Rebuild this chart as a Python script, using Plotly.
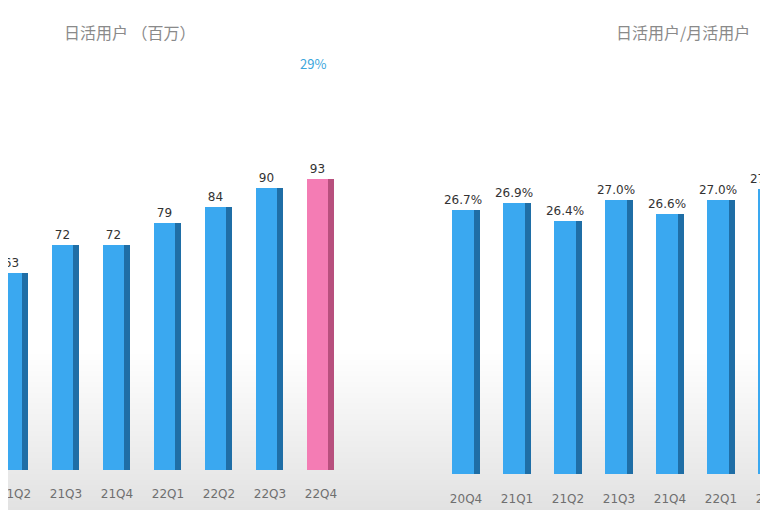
import plotly.graph_objects as go

# ---- data ----
dau_quarters = ["21Q2", "21Q3", "21Q4", "22Q1", "22Q2", "22Q3", "22Q4"]
dau_values = [63, 72, 72, 79, 84, 90, 93]
dau_labels = ["63", "72", "72", "79", "84", "90", "93"]

ratio_quarters = ["20Q4", "21Q1", "21Q2", "21Q3", "21Q4", "22Q1", "22Q2"]
ratio_values = [26.7, 26.9, 26.4, 27.0, 26.6, 27.0, 27.3]
ratio_labels = ["26.7%", "26.9%", "26.4%", "27.0%", "26.6%", "27.0%", "27.3%"]

left_title = "日活用户 （百万）"
growth_note = "29%"
right_title = "日活用户/月活用户"

# ---- styles ----
BLUE = "#3aa8f0"
BLUE_SIDE = "#1f6ea6"
PINK = "#f47cb4"
PINK_SIDE = "#b8507e"
FONT = "Noto Sans CJK SC"
NUMFONT = "DejaVu Sans"
W, H = 768, 510
OFF = 8  # page body margin offset compensation

front_colors = [BLUE] * (len(dau_values) - 1) + [PINK]
side_colors = [BLUE_SIDE] * (len(dau_values) - 1) + [PINK_SIDE]

fig = go.Figure()

label_font = dict(size=12, color="#333333", family=NUMFONT)

# left panel: front faces
fig.add_trace(go.Bar(
    x=dau_quarters, y=dau_values, width=0.42, offset=-0.28,
    marker=dict(color=front_colors, line=dict(width=0)),
    text=dau_labels, textposition="outside", constraintext="none",
    textfont=label_font,
    cliponaxis=False, xaxis="x", yaxis="y", hoverinfo="skip"))
# left panel: side faces
fig.add_trace(go.Bar(
    x=dau_quarters, y=dau_values, width=0.12, offset=0.14,
    marker=dict(color=side_colors, line=dict(width=0)),
    xaxis="x", yaxis="y", hoverinfo="skip"))

# right panel: front faces
fig.add_trace(go.Bar(
    x=ratio_quarters, y=ratio_values, width=0.44, offset=-0.28,
    marker=dict(color=BLUE, line=dict(width=0)),
    text=ratio_labels, textposition="outside", constraintext="none",
    textfont=label_font,
    cliponaxis=True, xaxis="x2", yaxis="y2", hoverinfo="skip"))
# right panel: side faces
fig.add_trace(go.Bar(
    x=ratio_quarters, y=ratio_values, width=0.12, offset=0.16,
    marker=dict(color=BLUE_SIDE, line=dict(width=0)),
    xaxis="x2", yaxis="y2", hoverinfo="skip"))

xaxis_common = dict(showgrid=False, zeroline=False, showline=False,
                    ticks="outside", tickcolor="rgba(0,0,0,0)",
                    tickfont=dict(size=12, color="#6f6f6f", family=NUMFONT),
                    fixedrange=True, automargin=False, type="category")
yaxis_common = dict(showgrid=False, zeroline=False, showline=False,
                    showticklabels=False, fixedrange=True, automargin=False)

# background gradient (lower part very light grey-blue)
shapes = []
n = 30
for i in range(n):
    top = 0.32 * (1 - i / n)
    shapes.append(dict(type="rect", xref="paper", yref="paper",
                       x0=0, x1=1, y0=0, y1=top,
                       fillcolor="rgba(200,208,222,0.015)",
                       line=dict(width=0), layer="below"))

fig.update_layout(
    width=W, height=H,
    margin=dict(l=0, r=0, t=0, b=0, autoexpand=False),
    paper_bgcolor="#ffffff", plot_bgcolor="rgba(0,0,0,0)",
    showlegend=False, barmode="overlay", bargap=0,
    shapes=shapes,
    xaxis=dict(domain=[0, 0.47], range=[-7 / 51, (361 - 7) / 51], ticklen=13,
               anchor="y", **xaxis_common),
    yaxis=dict(domain=[1 - (470 - OFF) / H, 1], range=[0, (470 - OFF) / 3.13],
               anchor="x", **yaxis_common),
    xaxis2=dict(domain=[0.53, 1], range=[(407 - 458) / 51, (768 - 458) / 51],
                ticklen=14, anchor="y2", **xaxis_common),
    yaxis2=dict(domain=[1 - (474 - OFF) / H, 1],
                range=[19.16, 19.16 + (474 - OFF) / 35], anchor="x2",
                **yaxis_common),
)

title_font = dict(size=16, color="#8a8a8a", family=FONT)
fig.add_annotation(text=left_title, x=(62 - OFF) / W, y=1 - (32 - OFF) / H,
                   xref="paper", yref="paper", xanchor="left", yanchor="middle",
                   showarrow=False, font=title_font)
fig.add_annotation(text=growth_note, x=(313 - OFF) / W, y=1 - (63 - OFF) / H,
                   xref="paper", yref="paper", xanchor="center", yanchor="middle",
                   showarrow=False, font=dict(size=13, color="#3aa6dc", family=FONT))
fig.add_annotation(text=right_title, x=(683 - OFF) / W, y=1 - (32 - OFF) / H,
                   xref="paper", yref="paper", xanchor="center", yanchor="middle",
                   showarrow=False, font=title_font)

fig.write_html("out.html")
